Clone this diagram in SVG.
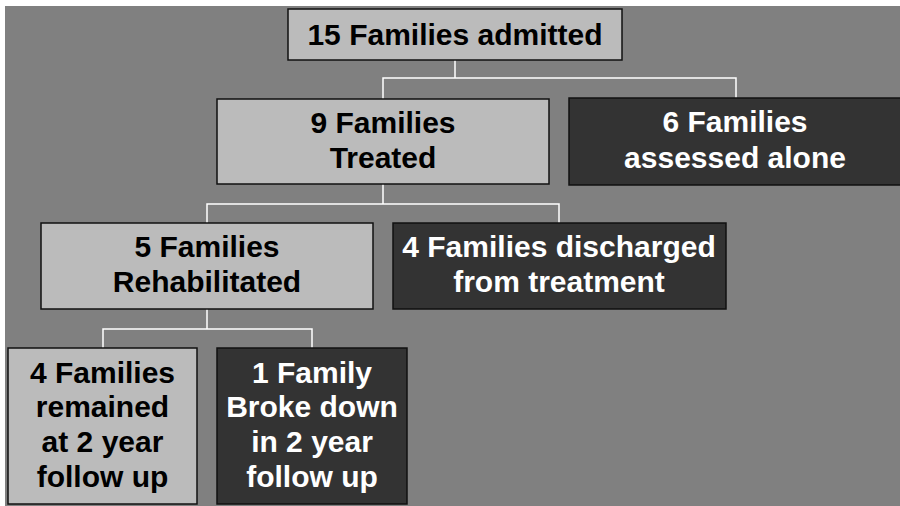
<svg xmlns="http://www.w3.org/2000/svg" width="900" height="506" viewBox="0 0 900 506">
<style>
.bg{fill:#808080}
.light{fill:#bbbbbb;stroke:#111;stroke-width:1.5}
.dark{fill:#333333;stroke:#111;stroke-width:1.5}
.conn{fill:none;stroke:#ffffff;stroke-width:1.5}
text{font-family:"Liberation Sans",Arial,sans-serif;font-weight:bold;font-size:30px;text-anchor:middle}
.tl{fill:#000}
.td{fill:#fff}
</style>
<rect x="0" y="0" width="900" height="506" fill="#ffffff"/>
<rect class="bg" x="5" y="6" width="895" height="500"/>
<g id="connectors">
<path class="conn" d="M455,60 V78 M383,99 V78 H736 V98"/>
<path class="conn" d="M383,184 V204 M207,223 V204 H559 V223"/>
<path class="conn" d="M207,309 V329 M103,348 V329 H312 V348"/>
</g>
<g id="n1">
<rect class="light" x="288" y="9" width="334" height="51"/>
<text class="tl" x="455" y="45">15 Families admitted</text>
</g>
<g id="n2">
<rect class="light" x="217" y="99" width="332" height="85"/>
<text class="tl" x="383" y="133">9 Families</text>
<text class="tl" x="383" y="168">Treated</text>
</g>
<g id="n3">
<rect class="dark" x="569" y="98" width="334" height="87"/>
<text class="td" x="735" y="132">6 Families</text>
<text class="td" x="735" y="168">assessed alone</text>
</g>
<g id="n4">
<rect class="light" x="41" y="223" width="332" height="86"/>
<text class="tl" x="207" y="257">5 Families</text>
<text class="tl" x="207" y="292">Rehabilitated</text>
</g>
<g id="n5">
<rect class="dark" x="393" y="223" width="333" height="86"/>
<text class="td" x="559" y="257">4 Families discharged</text>
<text class="td" x="559" y="292">from treatment</text>
</g>
<g id="n6">
<rect class="light" x="8" y="348" width="189" height="156"/>
<text class="tl" x="102.5" y="383">4 Families</text>
<text class="tl" x="102.5" y="417">remained</text>
<text class="tl" x="102.5" y="452">at 2 year</text>
<text class="tl" x="102.5" y="487">follow up</text>
</g>
<g id="n7">
<rect class="dark" x="217" y="348" width="190" height="156"/>
<text class="td" x="312" y="383">1 Family</text>
<text class="td" x="312" y="417">Broke down</text>
<text class="td" x="312" y="452">in 2 year</text>
<text class="td" x="312" y="487">follow up</text>
</g>
</svg>
